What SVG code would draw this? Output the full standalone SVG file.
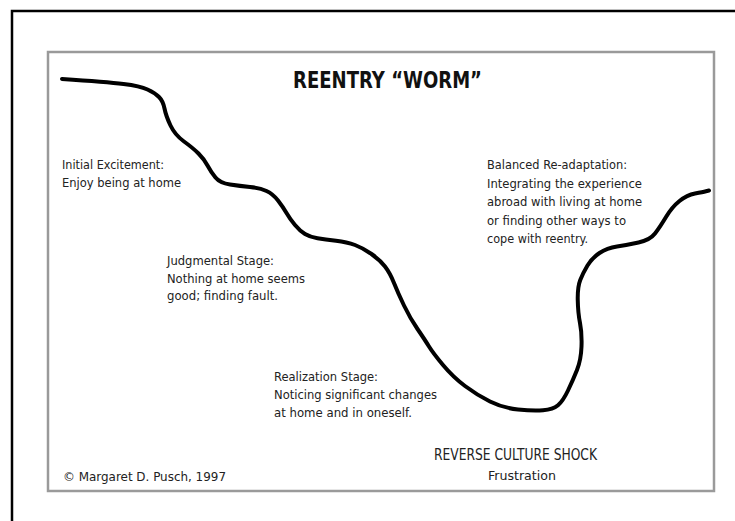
<svg xmlns="http://www.w3.org/2000/svg" width="735" height="521" viewBox="0 0 735 521">
<style>
.lbl{font-family:"Liberation Sans Narrow","DejaVu Sans Condensed","Liberation Sans",sans-serif;font-size:13px;fill:#222;}
.big{font-family:"Liberation Sans Narrow","DejaVu Sans Condensed","Liberation Sans",sans-serif;font-size:16px;fill:#222;}
.title{font-family:"Liberation Sans Narrow","DejaVu Sans Condensed","Liberation Sans",sans-serif;font-size:23px;font-weight:bold;fill:#111;}
.worm{fill:none;stroke:#000;stroke-width:4;stroke-linecap:round;stroke-linejoin:round;}
</style>
<rect x="0" y="0" width="735" height="521" fill="#fff"/>
<path d="M12,521 V11 H735" fill="none" stroke="#000" stroke-width="2.5"/>
<rect id="frame" x="48" y="52" width="666" height="439" fill="#fff" stroke="#9a9a9a" stroke-width="2.5"/>
<g id="title"><text class="title" x="293" y="88" textLength="189" lengthAdjust="spacingAndGlyphs">REENTRY “WORM”</text></g>
<g id="connectors">
<path class="worm" d="M62,79 Q107,82 123.5,84 Q140,86 147.5,89.5 Q155,93 159,97 Q163,101 164.5,108.5 Q166,116 170.5,125.5 Q175,135 184,141.5 Q193,148 198.5,153.5 Q204,159 207.5,165.5 Q211,172 215.5,177.5 Q220,183 230,184.5 Q240,186 250,187 Q260,188 266.5,191 Q273,194 278,200.5 Q283,207 286.5,213 Q290,219 295,225 Q300,231 305,234 Q310,237 317.5,238.25 Q325,239.5 336,240.75 Q347,242 355,245 Q363,248 371.5,254 Q380,260 385,266.5 Q390,273 394,283 Q398,293 404,305.5 Q410,318 417.5,329 Q425,340 429,346.5 Q433,353 443,365 Q453,377 465,386 Q477,395 490,401.5 Q503,408 518,409.5 Q533,411 543,410.25 Q553,409.5 558,405.25 Q563,401 568,390.5 Q573,380 577,370 Q581,360 581.5,346.5 Q582,333 580,323 Q578,313 577.75,300 Q577.5,287 580.25,280 Q583,273 587.5,265.5 Q592,258 599.5,253 Q607,248 617,246.5 Q627,245 638.5,242.5 Q650,240 655,233.5 Q660,227 666,217 Q672,207 679.5,201 Q687,195 695,193.5 Q703,192 706,191.25 L709,190.5"/>
</g>
<g id="initial">
<text class="lbl" x="62" y="169" textLength="102" lengthAdjust="spacingAndGlyphs">Initial Excitement:</text>
<text class="lbl" x="62" y="187" textLength="119" lengthAdjust="spacingAndGlyphs">Enjoy being at home</text>
</g>
<g id="judgmental">
<text class="lbl" x="167" y="265" textLength="107" lengthAdjust="spacingAndGlyphs">Judgmental Stage:</text>
<text class="lbl" x="167" y="283" textLength="138" lengthAdjust="spacingAndGlyphs">Nothing at home seems</text>
<text class="lbl" x="167" y="300" textLength="111" lengthAdjust="spacingAndGlyphs">good; finding fault.</text>
</g>
<g id="realization">
<text class="lbl" x="274" y="381" textLength="104" lengthAdjust="spacingAndGlyphs">Realization Stage:</text>
<text class="lbl" x="274" y="399" textLength="163" lengthAdjust="spacingAndGlyphs">Noticing significant changes</text>
<text class="lbl" x="274" y="417" textLength="138" lengthAdjust="spacingAndGlyphs">at home and in oneself.</text>
</g>
<g id="balanced">
<text class="lbl" x="487" y="169" textLength="140" lengthAdjust="spacingAndGlyphs">Balanced Re-adaptation:</text>
<text class="lbl" x="487" y="188" textLength="155" lengthAdjust="spacingAndGlyphs">Integrating the experience</text>
<text class="lbl" x="487" y="206" textLength="155" lengthAdjust="spacingAndGlyphs">abroad with living at home</text>
<text class="lbl" x="487" y="225" textLength="139" lengthAdjust="spacingAndGlyphs">or finding other ways to</text>
<text class="lbl" x="487" y="243" textLength="101" lengthAdjust="spacingAndGlyphs">cope with reentry.</text>
</g>
<g id="shock">
<text class="big" x="434" y="460" textLength="163" lengthAdjust="spacingAndGlyphs">REVERSE CULTURE SHOCK</text>
<text class="lbl" x="488" y="480" textLength="68" lengthAdjust="spacingAndGlyphs">Frustration</text>
</g>
<g id="copyright">
<text class="lbl" x="63" y="481" textLength="163" lengthAdjust="spacingAndGlyphs">© Margaret D. Pusch, 1997</text>
</g>
</svg>
